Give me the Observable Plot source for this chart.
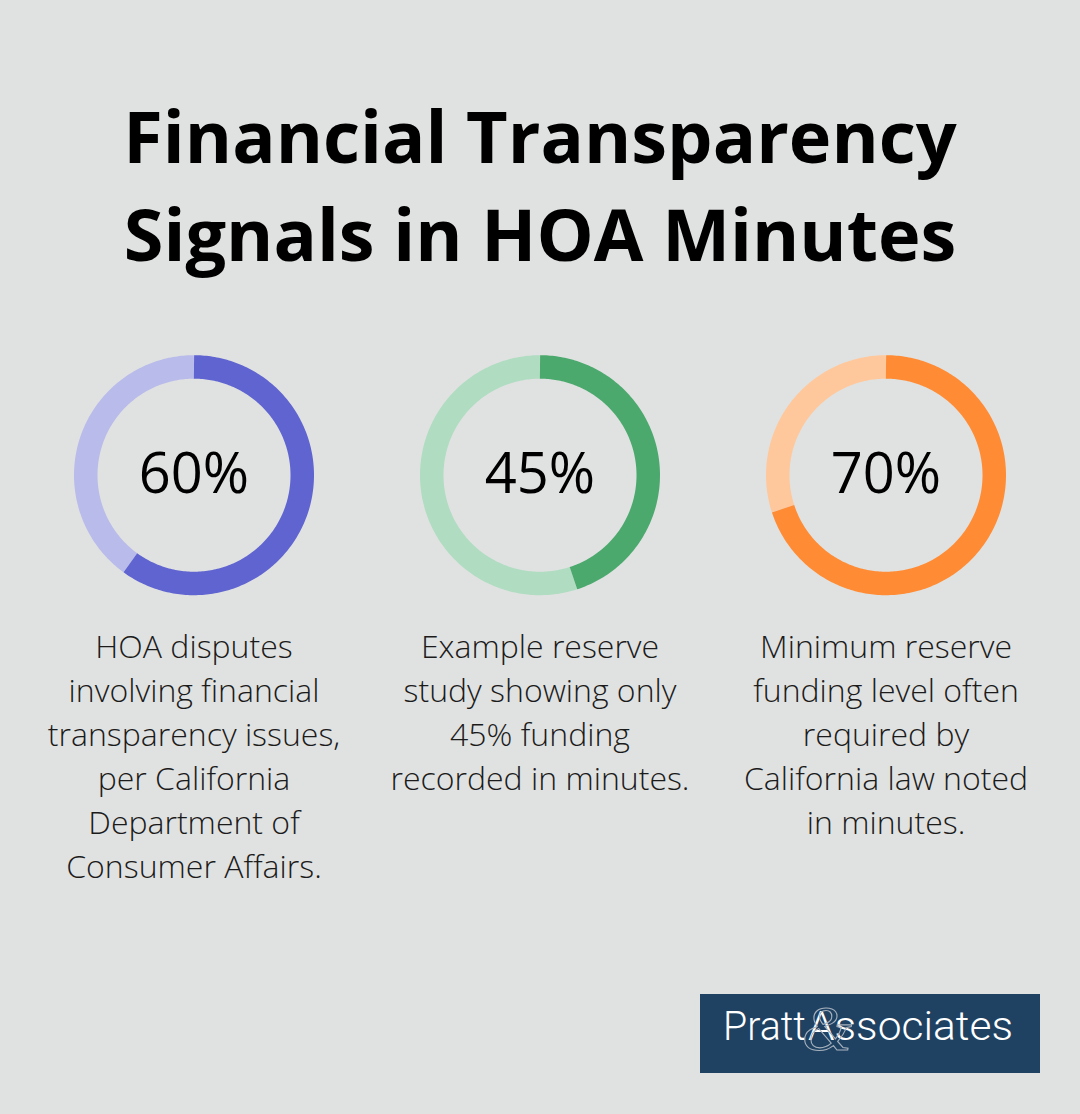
<!DOCTYPE html>
<html><head><meta charset="utf-8">
<script src="https://cdn.jsdelivr.net/npm/d3@7"></script>
<script src="https://cdn.jsdelivr.net/npm/@observablehq/plot@0.6"></script>
<style>
html,body{margin:0;padding:0;background:#e0e2e1;}
#page{position:relative;width:1080px;height:1114px;background:#e0e2e1;overflow:hidden;font-family:"Open Sans",sans-serif;}
#title{position:absolute;left:0;top:87px;width:1080px;text-align:center;font-weight:700;font-size:72px;line-height:97.5px;color:#000;margin:0;}
#chart{position:absolute;left:0;top:320px;}
#logo{position:absolute;left:700px;top:994px;width:340px;height:79px;background:#1f4263;}
#logo svg{display:block;}
</style></head><body>
<div id="page">
<h1 id="title">Financial Transparency<br>Signals in HOA Minutes</h1>
<div id="chart"></div>
<div id="logo"><svg width="340" height="79" viewBox="0 0 340 79">
<text x="23" y="46" font-family="Roboto" font-weight="300" font-size="40" fill="#fff" textLength="83" lengthAdjust="spacingAndGlyphs">Pratt</text>
<text x="108" y="46" font-family="Roboto" font-weight="300" font-size="40" fill="#fff" textLength="205" lengthAdjust="spacingAndGlyphs">Associates</text>
<text x="127" y="56" text-anchor="middle" font-family="Liberation Serif" font-style="italic" font-size="64" fill="none" stroke="#a7b1bc" stroke-width="1.1">&amp;</text>
</svg></div>
</div>
<script>
// ---- data ----
const metrics = ["HOA disputes", "Reserve study", "Minimum reserve"];
const values = [60, 45, 70];
const valueLabels = ["60%", "45%", "70%"];
const captions = [
  "HOA disputes\ninvolving financial\ntransparency issues,\nper California\nDepartment of\nConsumer Affairs.",
  "Example reserve\nstudy showing only\n45% funding\nrecorded in minutes.",
  "Minimum reserve\nfunding level often\nrequired by\nCalifornia law noted\nin minutes."
];
const darkColors = ["#6064d0", "#4ca96e", "#ff8c35"];
const lightColors = ["#b9bbea", "#b0dcc1", "#ffc89c"];

// ---- layout ----
const W = 1080, H = 590, ML = 37, MR = 37.3;
const R_OUT = 120, THICK = 23.5, R_MID = R_OUT - THICK / 2;
const CY = 154.7;        // donut centre (local y)
const CAP_Y = 306.1;     // caption anchor (local y)

// arc rows derived from values
const rows = [];
metrics.forEach((m, i) => {
  const split = values[i] / 100 * 360;
  const seg = (a0, a1, color, part) => {
    const n = Math.max(2, Math.ceil(a1 - a0));
    for (let k = 0; k <= n; k++) {
      const a = (a0 + (a1 - a0) * k / n) * Math.PI / 180;
      rows.push({metric: m, part: m + part, color, x: R_MID * Math.sin(a), y: CY - R_MID * Math.cos(a)});
    }
  };
  seg(split, 360, lightColors[i], "-rest");
  seg(0, split, darkColors[i], "-value");
});
const table = metrics.map((m, i) => ({metric: m, cx: 0, label: valueLabels[i], caption: captions[i]}));

function build(bw) {
  return Plot.plot({
    width: W, height: H,
    marginLeft: ML, marginRight: MR, marginTop: 0, marginBottom: 0,
    style: {background: "transparent", fontFamily: "Open Sans", overflow: "visible"},
    fx: {domain: metrics, paddingInner: 0.1, paddingOuter: 0, axis: null},
    x: {domain: [-bw / 2, bw / 2], axis: null},
    y: {domain: [0, H], range: [0, H], axis: null},
    color: {type: "identity"},
    marks: [
      Plot.line(rows, {fx: "metric", x: "x", y: "y", z: "part", stroke: "color",
        strokeWidth: THICK, strokeLinecap: "butt", strokeLinejoin: "round"}),
      Plot.text(table, {fx: "metric", x: "cx", y: () => CY, text: "label",
        fontSize: 56, fontWeight: 400, fill: "#000", lineAnchor: "middle", fontFamily: "Open Sans"}),
      Plot.text(table, {fx: "metric", x: "cx", y: () => CAP_Y, text: "caption",
        fontSize: 32, fontWeight: 300, fill: "#1b1b1b", lineAnchor: "top", lineHeight: 44 / 32, fontFamily: "Open Sans"})
    ]
  });
}
// first pass to read the facet band width, so that one x unit equals one pixel
const probe = build(300);
const bandwidth = probe.scale("fx").bandwidth;
const chart = build(bandwidth);
document.getElementById("chart").appendChild(chart);
</script>
</body></html>
